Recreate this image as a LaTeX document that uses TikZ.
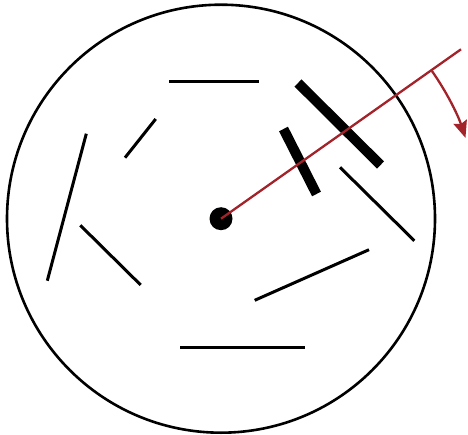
\documentclass[tikz,border=0pt]{standalone}
\usetikzlibrary{arrows.meta}
\definecolor{rayred}{HTML}{A3232A}

\begin{document}
\begin{tikzpicture}[
    x=1bp, y=-1bp,
    >={Stealth[length=17bp, width=14bp, inset=2.5bp]},
    rim/.style={draw=black, line width=2.6bp},
    rod/.style={draw=black, line width=3bp},
    thickrod/.style={draw=black, line width=10bp},
    ray/.style={draw=rayred, line width=2.3bp},
  ]
  \useasboundingbox (0,0) rectangle (468,435);

  % --- Outer circle + centre ---
  \coordinate (O) at (221, 218.7);
  \draw[rim] (O) circle[radius=214];
  \fill (O) circle[radius=11.5];

  % --- Thin rods ---
  \foreach \xa/\ya/\xb/\yb in {169.3/81.3/258.7/81.3, 125/157.7/155.7/119,
      86.3/133.7/47.3/280.7, 80.3/225.3/140.7/285, 340/167.3/414.3/240.7,
      254.7/300.3/369/249.7, 180.3/347.7/304.7/347.7} {
    \draw[rod] (\xa, \ya) -- (\xb, \yb);
  }

  % --- Thick rods on the ray ---
  \draw[thickrod] (298, 83) -- (380.5, 165);
  \draw[thickrod] (283.5, 129) -- (316.5, 194);

  % --- Ray + rotation arrow ---
  \coordinate (rayend) at (461, 49.3);
  \draw[ray] (O) -- (rayend);
  \draw[ray, ->] (O) ++(-35:257.5) arc[start angle=-35, end angle=-18.3, radius=257.5];

\end{tikzpicture}
\end{document}
